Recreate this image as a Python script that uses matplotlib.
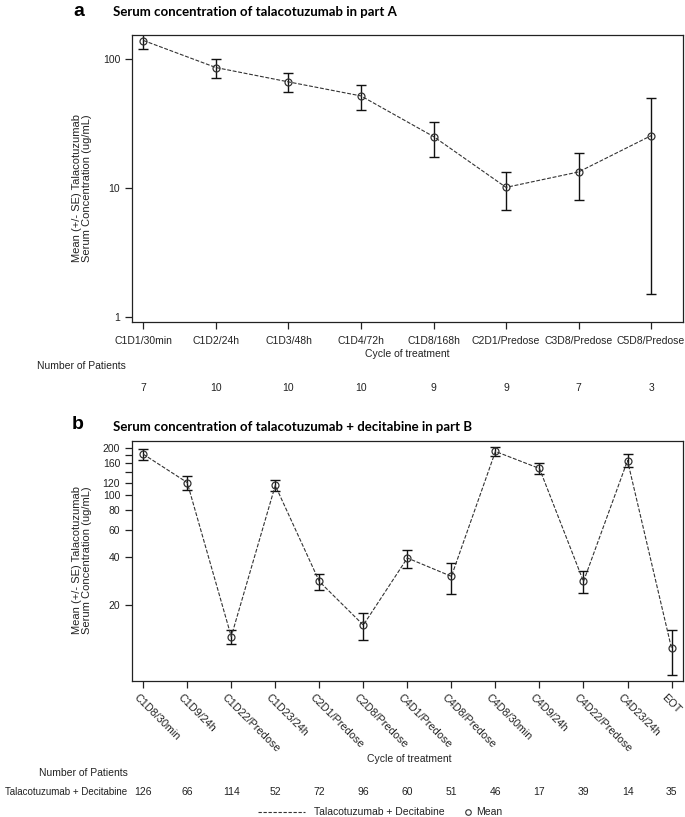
import matplotlib
matplotlib.use('Agg')
import matplotlib.pyplot as plt
from matplotlib.lines import Line2D
from matplotlib.transforms import blended_transform_factory, ScaledTranslation

# part A
visits_a = ['C1D1/30min', 'C1D2/24h', 'C1D3/48h', 'C1D4/72h', 'C1D8/168h',
            'C2D1/Predose', 'C3D8/Predose', 'C5D8/Predose']
mean_a = [138.7, 85.6, 66.3, 51.6, 25.0, 10.1, 13.3, 25.4]
se_a = [20.0, 14.4, 11.0, 11.3, 7.7, 3.3, 5.25, 23.9]
n_a = [7, 10, 10, 10, 9, 9, 7, 3]

# part B
visits_b = ['C1D8/30min', 'C1D9/24h', 'C1D22/Predose', 'C1D23/24h', 'C2D1/Predose',
            'C2D8/Predose', 'C4D1/Predose', 'C4D8/Predose', 'C4D8/30min', 'C4D9/24h',
            'C4D22/Predose', 'C4D23/24h', 'EOT']
mean_b = [183.0, 120.5, 12.5, 115.4, 28.1, 14.8, 39.7, 30.3, 190.4, 148.2, 28.1, 166.4, 10.5]
se_b = [15.0, 12.0, 1.3, 9.2, 3.4, 2.9, 5.2, 6.8, 12.0, 12.0, 4.5, 16.0, 3.35]
n_b = [126, 66, 114, 52, 72, 96, 60, 51, 46, 17, 39, 14, 35]

W, H = 685, 817


def fx(px):
    return px / W


def fy(py):
    return 1 - py / H


plt.rcParams['font.family'] = ['Liberation Sans', 'DejaVu Sans']
line_col = '#333333'
txt_col = '#222222'
fs = 7.5

fig = plt.figure(figsize=(6.85, 8.17), dpi=100)
ax_a = fig.add_axes([fx(132), fy(322), fx(683) - fx(132), fy(35) - fy(322)])
ax_b = fig.add_axes([fx(132), fy(681), fx(683) - fx(132), fy(441) - fy(681)])


def draw(ax, mean, se):
    x = list(range(len(mean)))
    ax.errorbar(x, mean, yerr=se, fmt='none', ecolor='#111111', elinewidth=1.0,
                capsize=3.6, capthick=1.0)
    ax.plot(x, mean, color=line_col, lw=0.8, ls=(0, (3.5, 1.5)))
    ax.plot(x, mean, 'o', ms=5, mfc='none', mec=line_col, mew=0.9)
    ax.set_yscale('log')
    ax.minorticks_off()
    for s in ax.spines.values():
        s.set_linewidth(0.9)
        s.set_color(txt_col)
    ax.tick_params(direction='out', length=5, width=0.9, labelsize=fs, colors=txt_col)


# panel a
draw(ax_a, mean_a, se_a)
ax_a.set_ylim(0.915, 153)
ax_a.set_xlim(-0.158, len(visits_a) - 1 + 0.44)
ax_a.set_yticks([1, 10, 100])
ax_a.set_yticklabels(['1', '10', '100'])
ax_a.set_xticks(range(len(visits_a)))
ax_a.set_xticklabels(visits_a)
ax_a.tick_params(axis='x', pad=5)

# panel b
draw(ax_b, mean_b, se_b)
ax_b.set_ylim(6.5, 222)
ax_b.set_xlim(-0.254, len(visits_b) - 1 + 0.26)
yt = [20, 40, 60, 80, 100, 120, 140, 160, 180, 200]
ax_b.set_yticks(yt)
ax_b.set_yticklabels(['' if v in (140, 180) else str(v) for v in yt])
ax_b.set_xticks(range(len(visits_b)))
ax_b.set_xticklabels(visits_b, rotation=-45, ha='left', va='top', rotation_mode='anchor',
                     fontsize=7.8)
ax_b.tick_params(axis='x', pad=3)
shift = ScaledTranslation(-0.045, 0, fig.dpi_scale_trans)
for lbl in ax_b.get_xticklabels():
    lbl.set_transform(lbl.get_transform() + shift)

# titles
fig.text(fx(73), fy(11), 'a', fontsize=14, fontweight='bold', va='center', ha='left')
fig.text(fx(113), fy(12), 'Serum concentration of talacotuzumab in part A',
         family='Lato', fontsize=9.5, fontweight='bold', va='center', ha='left')
fig.text(fx(72), fy(424), 'b', fontsize=14, fontweight='bold', va='center', ha='left')
fig.text(fx(113), fy(427), 'Serum concentration of talacotuzumab + decitabine in part B',
         family='Lato', fontsize=9.5, fontweight='bold', va='center', ha='left')

ylab = 'Mean (+/- SE) Talacotuzumab\nSerum Concentration (ug/mL)'
fig.text(fx(82), fy(188), ylab, rotation=90, ha='center', va='center', fontsize=8,
         multialignment='center', linespacing=1.0, color=txt_col)
fig.text(fx(82), fy(560), ylab, rotation=90, ha='center', va='center', fontsize=8,
         multialignment='center', linespacing=1.0, color=txt_col)

fig.text(fx(407), fy(354), 'Cycle of treatment', ha='center', va='center', fontsize=fs, color=txt_col)
fig.text(fx(409), fy(759), 'Cycle of treatment', ha='center', va='center', fontsize=fs, color=txt_col)

# patient counts
fig.text(fx(126), fy(366), 'Number of Patients', ha='right', va='center', fontsize=fs, color=txt_col)
tr_a = blended_transform_factory(ax_a.transData, fig.transFigure)
for i, n in enumerate(n_a):
    ax_a.text(i, fy(388), str(n), transform=tr_a, ha='center', va='center', fontsize=fs,
              color=txt_col, clip_on=False)

fig.text(fx(128), fy(773), 'Number of Patients', ha='right', va='center', fontsize=fs, color=txt_col)
fig.text(fx(127), fy(792), 'Talacotuzumab + Decitabine', ha='right', va='center', fontsize=7,
         color=txt_col)
tr_b = blended_transform_factory(ax_b.transData, fig.transFigure)
for i, n in enumerate(n_b):
    ax_b.text(i, fy(792), str(n), transform=tr_b, ha='center', va='center', fontsize=fs,
              color=txt_col, clip_on=False)

# legend drawn by hand to match spacing
ly = fy(812)
fig.add_artist(Line2D([fx(258), fx(305)], [ly, ly], transform=fig.transFigure,
                      color=line_col, lw=0.8, ls=(0, (3, 1.5))))
fig.text(fx(314), ly, 'Talacotuzumab + Decitabine', ha='left', va='center', fontsize=fs,
         color=txt_col)
fig.add_artist(Line2D([fx(468)], [ly], transform=fig.transFigure, marker='o', ls='none',
                      ms=4, mfc='none', mec=line_col, mew=0.8))
fig.text(fx(476), ly, 'Mean', ha='left', va='center', fontsize=fs, color=txt_col)

plt.savefig('out.png', dpi=100)
